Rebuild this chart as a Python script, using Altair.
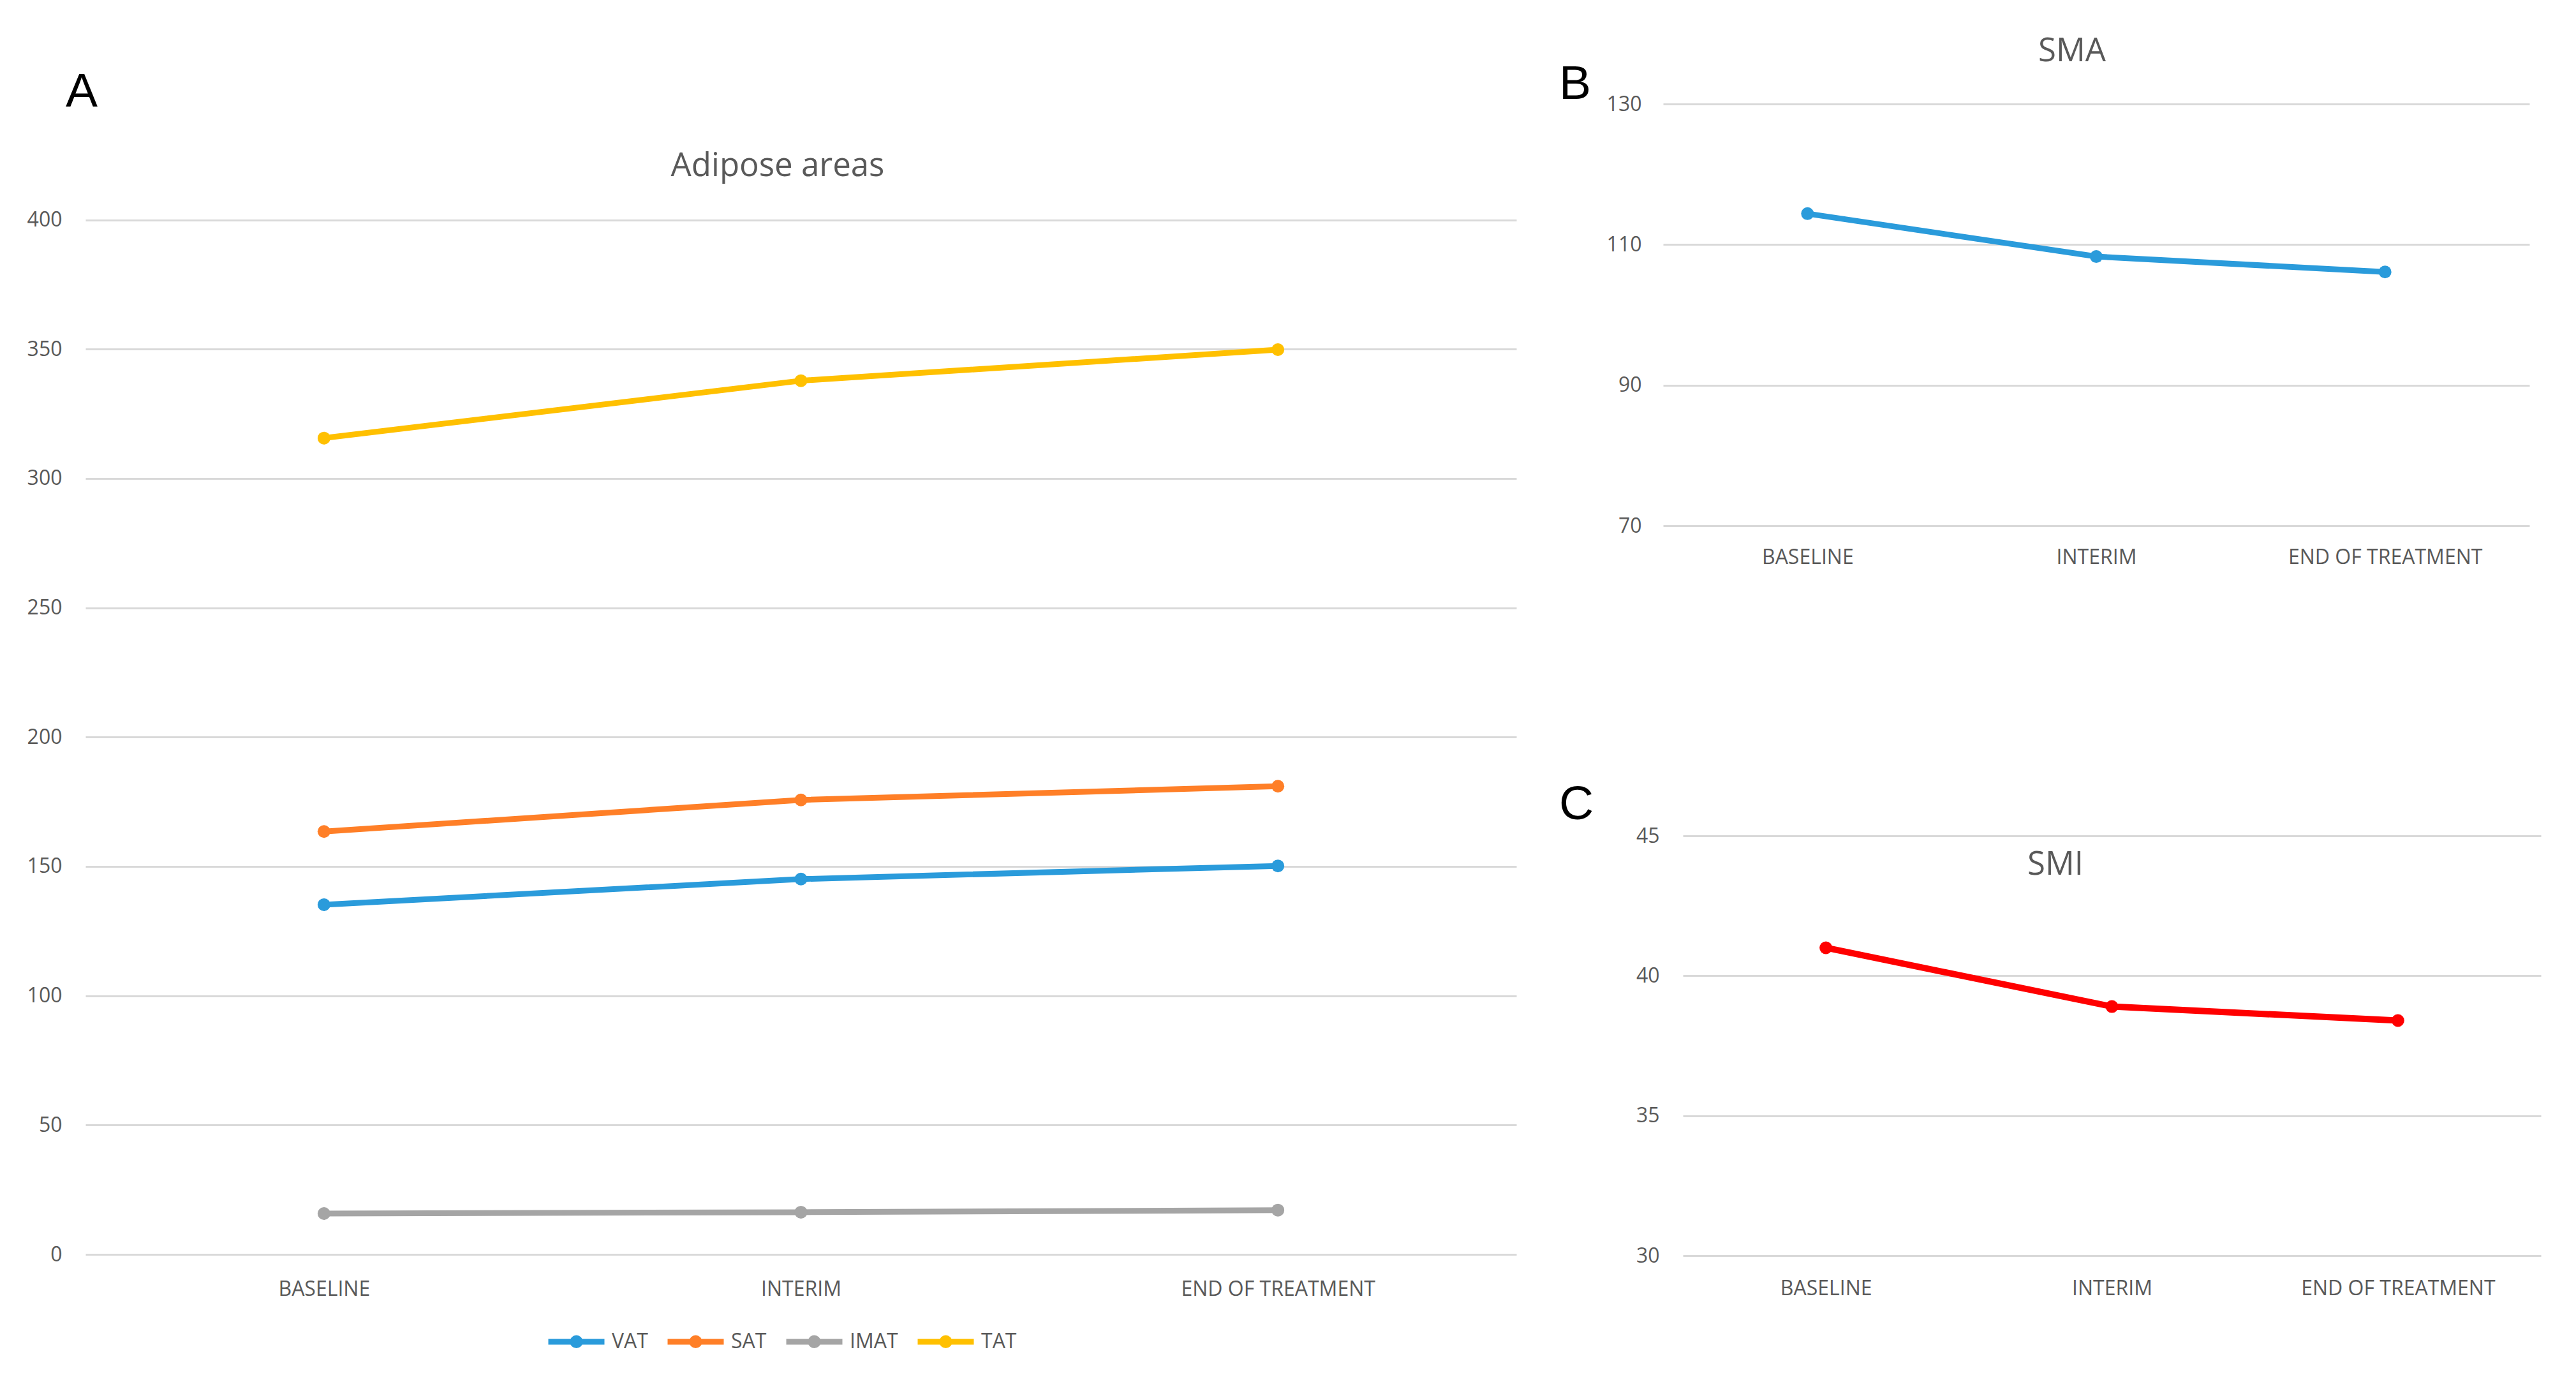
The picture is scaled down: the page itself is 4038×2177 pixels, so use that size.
import altair as alt
import pandas as pd

# ---------------- data ----------------
categories = ["BASELINE", "INTERIM", "END OF TREATMENT"]
series_names = ["VAT", "SAT", "IMAT", "TAT"]
vat = [135.2, 145.1, 150.2]
sat = [163.5, 175.7, 181.0]
imat = [15.8, 16.3, 17.1]
tat = [315.6, 337.8, 349.8]
sma = [114.4, 108.3, 106.1]
smi = [41.0, 38.9, 38.4]

adipose_ticks = [0, 50, 100, 150, 200, 250, 300, 350, 400]
sma_ticks = [70, 90, 110, 130]
smi_ticks = [30, 35, 40, 45]

titles = ["Adipose areas", "SMA", "SMI"]
letters = ["A", "B", "C"]

series_colors = ["#2A9BDB", "#FF7F27", "#A5A5A5", "#FFC000"]
sma_color = "#2A9BDB"
smi_color = "#FF0000"

# ---------------- tables ----------------
rows = []
for name, vals in zip(series_names, [vat, sat, imat, tat]):
    for c, v in zip(categories, vals):
        rows.append({"category": c, "series": name, "value": v})
df_a = pd.DataFrame(rows)
df_b = pd.DataFrame({"category": categories, "value": sma})
df_c = pd.DataFrame({"category": categories, "value": smi})

W, H = 4022, 2161
FONT = "Open Sans"
TXT = "#595959"
GRID = "#D9D9D9"


def yaxis(values, offset, pad):
    return alt.Axis(values=values, orient="left", offset=offset, title=None,
                    domain=False, ticks=False, grid=True, gridColor=GRID,
                    gridWidth=3, labelFont=FONT, labelFontSize=32,
                    labelColor=TXT, labelPadding=pad)


def xaxis(offset, pad):
    return alt.Axis(orient="bottom", offset=offset, title=None, domain=False,
                    ticks=False, grid=False, labelAngle=0, labelFont=FONT,
                    labelFontSize=32, labelColor=TXT, labelPadding=pad,
                    labelLimit=0)


legend_symbol = ("M-1,0L1,0M-0.13,0A0.13,0.13,0,1,0,0.13,0"
                 "A0.13,0.13,0,1,0,-0.13,0")

line_a = alt.Chart(df_a).mark_line(
    strokeWidth=9,
    point=alt.OverlayMarkDef(filled=True, size=400, opacity=1),
).encode(
    x=alt.X("category:N",
            scale=alt.Scale(domain=categories, range=[126, 2369], padding=0.5),
            axis=xaxis(-203, 39)),
    y=alt.Y("value:Q",
            scale=alt.Scale(domain=[0, 400], range=[1958, 336.5], nice=False,
                            zero=False),
            axis=yaxis(adipose_ticks, -126, 37)),
    color=alt.Color("series:N",
                    scale=alt.Scale(domain=series_names, range=series_colors),
                    legend=alt.Legend(orient="none", legendX=847, legendY=2046,
                                      direction="horizontal", columns=4,
                                      title=None, symbolType=legend_symbol,
                                      symbolSize=88 * 88, symbolStrokeWidth=9,
                                      labelFont=FONT, labelFontSize=32,
                                      labelColor=TXT, labelOffset=7,
                                      columnPadding=12)),
)

line_b = alt.Chart(df_b).mark_line(
    strokeWidth=9, color=sma_color,
    point=alt.OverlayMarkDef(filled=True, size=400, opacity=1, color=sma_color),
).encode(
    x=alt.X("category:N",
            scale=alt.Scale(domain=categories, range=[2599, 3957], padding=0.5),
            axis=xaxis(-1345, 34)),
    y=alt.Y("value:Q",
            scale=alt.Scale(domain=[70, 130], range=[816, 155], nice=False,
                            zero=False),
            axis=yaxis(sma_ticks, -2599, 34)),
)

line_c = alt.Chart(df_c).mark_line(
    strokeWidth=10, color=smi_color,
    point=alt.OverlayMarkDef(filled=True, size=400, opacity=1, color=smi_color),
).encode(
    x=alt.X("category:N",
            scale=alt.Scale(domain=categories, range=[2630, 3975], padding=0.5),
            axis=xaxis(-201, 36)),
    y=alt.Y("value:Q",
            scale=alt.Scale(domain=[30, 45], range=[1960, 1302], nice=False,
                            zero=False),
            axis=yaxis(smi_ticks, -2630, 37)),
)


def label(text, x, y, size, font, color):
    return alt.Chart(pd.DataFrame({"t": [text]})).mark_text(
        font=font, fontSize=size, color=color, align="center",
        baseline="alphabetic",
    ).encode(text="t:N", x=alt.value(x), y=alt.value(y))


texts = [
    label(titles[0], 1211, 268, 51, FONT, TXT),
    label(titles[1], 3240, 88, 51, FONT, TXT),
    label(titles[2], 3214, 1363, 51, FONT, TXT),
    label(letters[0], 120, 159, 75, "Liberation Sans", "#000000"),
    label(letters[1], 2461, 147, 75, "Liberation Sans", "#000000"),
    label(letters[2], 2463, 1276, 75, "Liberation Sans", "#000000"),
]

chart = alt.layer(line_a, line_b, line_c, *texts).resolve_scale(
    x="independent", y="independent"
).resolve_axis(
    x="independent", y="independent"
).properties(
    width=W, height=H, padding=0, background="white",
    autosize=alt.AutoSizeParams(type="none"),
).configure_view(stroke=None)

chart.save("out.html", embed_options={"renderer": "svg", "actions": False})
